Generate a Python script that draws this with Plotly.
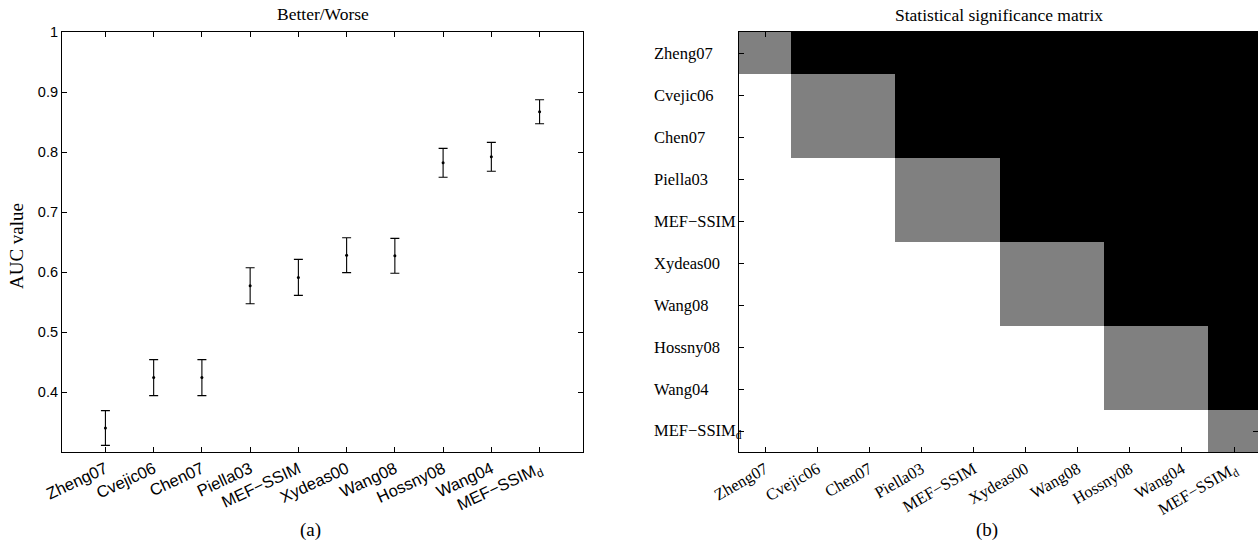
import plotly.graph_objects as go

# ---------------- data ----------------
methods = ["Zheng07", "Cvejic06", "Chen07", "Piella03", "MEF−SSIM",
           "Xydeas00", "Wang08", "Hossny08", "Wang04", "MEF−SSIM<sub>d</sub>"]
auc_mean = [0.340, 0.424, 0.424, 0.577, 0.591, 0.628, 0.627, 0.782, 0.792, 0.867]
auc_err = [0.029, 0.030, 0.030, 0.030, 0.030, 0.029, 0.029, 0.024, 0.024, 0.020]
y_tickvals = [0.4, 0.5, 0.6, 0.7, 0.8, 0.9, 1.0]
y_ticktext = ["0.4", "0.5", "0.6", "0.7", "0.8", "0.9", "1"]

# 1 = row significantly better than column (black), 0 = not significant (gray), -1 = worse (white)
sig_matrix = [
    [0, 1, 1, 1, 1, 1, 1, 1, 1, 1],
    [-1, 0, 0, 1, 1, 1, 1, 1, 1, 1],
    [-1, 0, 0, 1, 1, 1, 1, 1, 1, 1],
    [-1, -1, -1, 0, 0, 1, 1, 1, 1, 1],
    [-1, -1, -1, 0, 0, 1, 1, 1, 1, 1],
    [-1, -1, -1, -1, -1, 0, 0, 1, 1, 1],
    [-1, -1, -1, -1, -1, 0, 0, 1, 1, 1],
    [-1, -1, -1, -1, -1, -1, -1, 0, 0, 1],
    [-1, -1, -1, -1, -1, -1, -1, 0, 0, 1],
    [-1, -1, -1, -1, -1, -1, -1, -1, -1, 0],
]

W, H = 1258, 544
SANS = "Liberation Sans, Arial, sans-serif"
SERIF = "Liberation Serif, Times New Roman, serif"

fig = go.Figure()

fig.add_trace(go.Scatter(
    x=methods, y=auc_mean, mode="markers",
    marker=dict(color="black", size=3),
    error_y=dict(type="data", array=auc_err, visible=True,
                 color="black", thickness=1.1, width=4.5),
    xaxis="x", yaxis="y", showlegend=False,
))

fig.add_trace(go.Heatmap(
    z=sig_matrix, x=methods, y=methods,
    zmin=-1, zmax=1,
    colorscale=[[0, "white"], [0.5, "#808080"], [1, "black"]],
    showscale=False, xaxis="x2", yaxis="y2",
))

common_axis = dict(showline=True, linecolor="black", linewidth=1.2, mirror="ticks",
                   ticks="inside", ticklen=5, tickcolor="black", tickwidth=1,
                   showgrid=False, zeroline=False, automargin=False)

fig.update_layout(
    template="none",
    width=W, height=H,
    margin=dict(l=0, r=0, t=0, b=0, autoexpand=False),
    paper_bgcolor="white", plot_bgcolor="white",
    font=dict(color="black"),
    xaxis=dict(domain=[62 / W, 583 / W], anchor="y", type="category",
               categoryorder="array", categoryarray=methods,
               range=[-0.9, 9.9], tickangle=-25,
               tickfont=dict(family=SANS, size=16.5, color="black"),
               **common_axis),
    yaxis=dict(domain=[92 / H, 512 / H], anchor="x", range=[0.3, 1.0],
               tickvals=y_tickvals, ticktext=y_ticktext,
               tickfont=dict(family=SANS, size=14.5, color="black"),
               **common_axis),
    xaxis2=dict(domain=[739 / W, 1.0], anchor="y2", type="category",
                categoryorder="array", categoryarray=methods,
                range=[-0.5, 9.46], tickangle=-30,
                tickfont=dict(family=SERIF, size=16.5, color="black"),
                **common_axis),
    yaxis2=dict(domain=[92 / H, 512 / H], anchor="x2", type="category",
                categoryorder="array", categoryarray=methods,
                range=[9.5, -0.5], showticklabels=False,
                **common_axis),
)

annotations = [
    dict(text="Better/Worse", x=323 / W, y=1 - 14 / H, xref="paper", yref="paper",
         showarrow=False, xanchor="center", yanchor="middle",
         font=dict(family=SERIF, size=17.5, color="black")),
    dict(text="Statistical significance matrix", x=999 / W, y=1 - 15 / H,
         xref="paper", yref="paper", showarrow=False, xanchor="center", yanchor="middle",
         font=dict(family=SERIF, size=17.5, color="black")),
    dict(text="AUC value", x=17 / W, y=1 - 246 / H, xref="paper", yref="paper",
         showarrow=False, textangle=-90, xanchor="center", yanchor="middle",
         font=dict(family=SERIF, size=19, color="black")),
    dict(text="(a)", x=310 / W, y=1 - 530 / H, xref="paper", yref="paper",
         showarrow=False, xanchor="center", yanchor="middle",
         font=dict(family=SERIF, size=19, color="black")),
    dict(text="(b)", x=987 / W, y=1 - 530 / H, xref="paper", yref="paper",
         showarrow=False, xanchor="center", yanchor="middle",
         font=dict(family=SERIF, size=19, color="black")),
]
for m in methods:
    annotations.append(dict(text=m, x=652 / W, y=m, xref="paper", yref="y2",
                            showarrow=False, xanchor="left", yanchor="middle",
                            font=dict(family=SERIF, size=16.5, color="black")))
fig.update_layout(annotations=annotations)

fig.write_html("out.html")
